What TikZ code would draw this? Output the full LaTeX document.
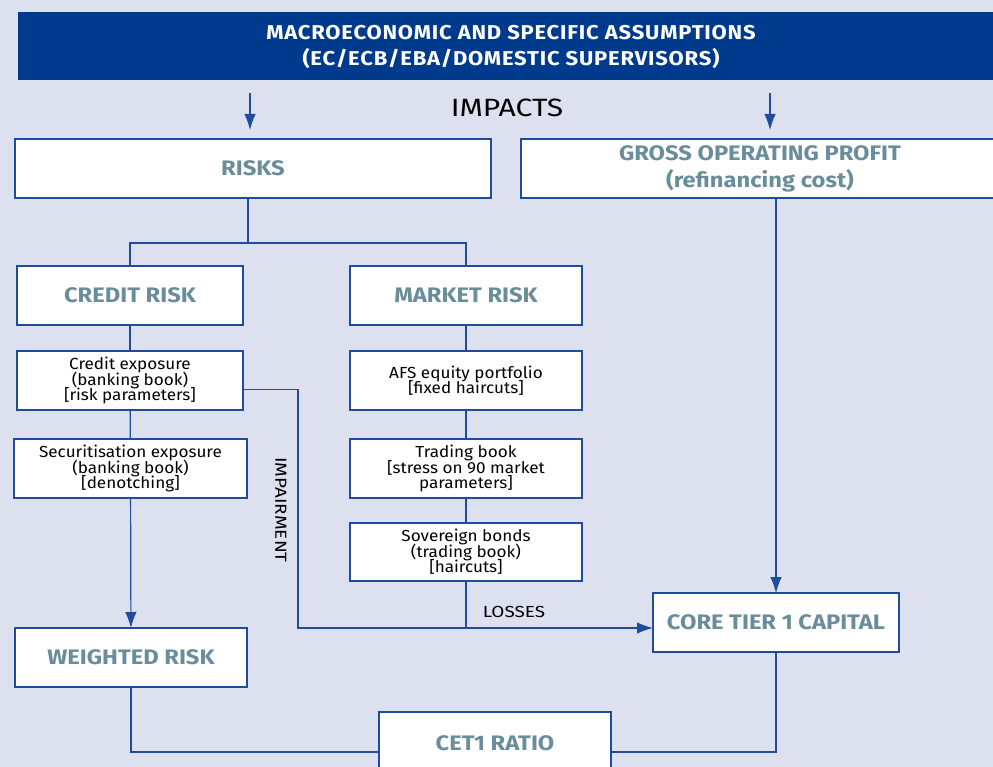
\documentclass[tikz,border=0pt]{standalone}
\usepackage{fontspec}
\setmainfont{Fira Sans}
\usepackage{tikz}
\usetikzlibrary{arrows.meta, positioning}
\definecolor{pagebg}{HTML}{DCE0EF}
\definecolor{bannerblue}{HTML}{003A8C}
\definecolor{lineblue}{HTML}{1F4C9C}
\definecolor{labelgrey}{HTML}{6A8D9B}
\newcommand{\tightlines}{\lineskiplimit -8pt\relax}
\tikzset{
  box/.style={draw=lineblue, fill=white, line width=1.2pt, inner sep=0pt, outer sep=0pt, align=center},
  bigbox/.style={box, font=\bfseries\fontsize{21}{27}\selectfont\addfontfeatures{FakeStretch=1.13}, text=labelgrey},
  smallbox/.style={box, font=\fontsize{16}{15.5}\selectfont\addfontfeatures{FakeStretch=1.07}\tightlines, text=black},
  link/.style={draw=lineblue, line width=1.2pt},
  arr/.style={link, -{Latex[length=16pt,width=11.5pt]}},
  tag/.style={font=\fontsize{16}{16}\selectfont\addfontfeatures{FakeStretch=1.18}, text=black, inner sep=0pt}
}

\begin{document}
\begin{tikzpicture}[x=1pt, y=-1pt]

  \fill[pagebg] (0,0) rectangle (993,767);
  \useasboundingbox (0,0) rectangle (993,767);

% Banner
  \fill[bannerblue] (18,12) rectangle (993,80);
  \node[font=\bfseries\fontsize{20}{26}\selectfont\addfontfeatures{LetterSpace=4,FakeStretch=1.1}, text=white, align=center] (banner) at (511,47)
    {MACROECONOMIC AND SPECIFIC ASSUMPTIONS\\(EC/ECB/EBA/DOMESTIC SUPERVISORS)};
  \node[font=\fontsize{25}{26}\selectfont\addfontfeatures{FakeStretch=1.2}, text=black] (impacts) at (507,108) {IMPACTS};

  \coordinate (inL) at (250,93);
  \coordinate (inR) at (770,93);

  \node[bigbox, minimum width=476, minimum height=59] (risks) at (253,168.5) {RISKS};
  \node[bigbox, minimum width=478, minimum height=59] (gop) at (760,168.5) {GROSS OPERATING PROFIT\\(refinancing cost)};

  \node[bigbox, minimum width=226, minimum height=59] (credit) at (130,295.5) {CREDIT RISK};
  \node[bigbox, minimum width=232, minimum height=59] (market) at (466,295.5) {MARKET RISK};

  \node[smallbox, minimum width=226, minimum height=59] (credexp) at (130,380.5) {Credit exposure\\(banking book)\\{[risk parameters]}};
  \node[smallbox, minimum width=233, minimum height=59] (secur) at (130.5,468.5) {Securitisation exposure\\(banking book)\\{[denotching]}};

  \node[smallbox, minimum width=232, minimum height=59] (afs) at (466,380.5) {AFS equity portfolio\\{[fixed haircuts]}};
  \node[smallbox, minimum width=232, minimum height=59] (trading) at (466,468.5) {Trading book\\{[stress on 90 market}\\parameters]};
  \node[smallbox, minimum width=232, minimum height=58] (sovereign) at (466,552) {Sovereign bonds\\(trading book)\\{[haircuts]}};

  \node[bigbox, minimum width=232, minimum height=59] (weighted) at (131,657.5) {WEIGHTED RISK};
  \node[bigbox, minimum width=246, minimum height=59] (core) at (776,622.5) {CORE TIER 1 CAPITAL};
  \node[bigbox, minimum width=232, minimum height=62] (cet1) at (495,743) {CET1 RATIO};

  \coordinate (fork) at (248,243);
  \coordinate (imp) at (298,628);

  \draw[arr, shorten >=9pt] (inL) -- (inL |- risks.north);
  \draw[arr, shorten >=9pt] (inR) -- (inR |- gop.north);

  \draw[link] (risks.south -| fork) -- (fork);
  \draw[link] (credit.north) |- (fork) -| (market.north);

  \draw[link] (credit) -- (credexp);
  \draw[link] (credexp) -- (secur);
  \draw[arr] (secur) -- (weighted);

  \foreach \a/\b in {market/afs, afs/trading, trading/sovereign}{
    \draw[link] (\a) -- (\b);
  }

  \draw[arr] ([yshift=-9pt]credexp.east) -| (imp) -- (imp -| core.west);
  \draw[link] (sovereign.south) -- (sovereign.south |- imp);
  \draw[arr] (gop.south -| core.north) -- (core.north);

  \draw[link] (weighted.south) |- ([yshift=-9pt]cet1.west);
  \draw[link] (core.south) |- ([yshift=-9pt]cet1.east);

  \node[tag, rotate=-90] (impairment) at (281,510) {IMPAIRMENT};
  \node[tag] (losses) at (514,612) {LOSSES};

\end{tikzpicture}
\end{document}
